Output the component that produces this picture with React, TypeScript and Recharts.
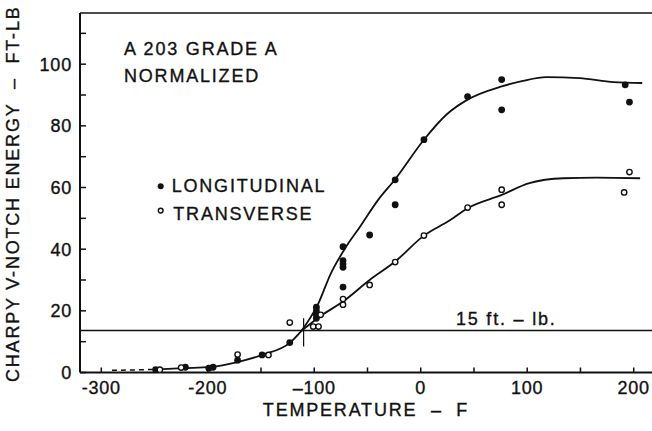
import {
  ComposedChart,
  Legend,
  Line,
  ReferenceDot,
  ReferenceLine,
  Scatter,
  XAxis,
  YAxis,
} from 'recharts'

const FONT = '"Liberation Sans", Arial, Helvetica, sans-serif'
const INK = '#111'

// test points (temperature F, energy ft-lb)
const LONG_TEMP = [-249, -221, -199, -195, -172, -149, -123, -98, -98, -98, -98, -73, -73, -73, -73, -73, -48, -24, -24, 3, 44, 76, 76, 192, 196]
const LONG_ENERGY = [0.9, 1.7, 1.4, 1.7, 4.0, 5.7, 9.7, 21.2, 20.0, 18.7, 17.6, 40.8, 36.3, 35.2, 34.1, 27.7, 44.6, 62.5, 54.4, 75.5, 89.5, 95.0, 85.2, 93.3, 87.7]
const TRANS_TEMP = [-245, -225, -172, -143, -123, -101, -96, -94, -73, -73, -48, -24, 3, 44, 76, 76, 191, 196]
const TRANS_ENERGY = [0.9, 1.6, 5.8, 5.7, 16.2, 14.9, 14.9, 18.7, 23.8, 22.0, 28.4, 35.8, 44.4, 53.5, 59.3, 54.4, 58.4, 65.0]

// hand-drawn fit curves
const TAIL_TEMP = [-290, -247]
const TAIL_ENERGY = [0.7, 1.0]
const LOW_TEMP = [-247, -223, -197, -172, -148, -123, -112]
const LOW_ENERGY = [1.0, 1.4, 1.8, 3.4, 5.8, 9.6, 13.5]
const LONG_FIT_TEMP = [-112, -96, -85, -71, -57, -40, -24, 3, 24, 44, 76, 96, 118, 149, 181, 208]
const LONG_FIT_ENERGY = [13.5, 22.5, 31.7, 40.3, 47.3, 56, 62.7, 75.5, 83.6, 88.5, 92.8, 94.6, 95.8, 95.5, 94.2, 93.9]
const TRANS_FIT_TEMP = [-112, -95, -73, -48, -24, 3, 27, 44, 76, 102, 134, 165, 206]
const TRANS_FIT_ENERGY = [13.5, 18.1, 23, 30, 36, 44.4, 49.3, 53.3, 57.6, 61.4, 63, 63.2, 63]

const X_TICKS = [-300, -250, -200, -150, -100, -50, 0, 50, 100, 150, 200]
const X_LABELS: Record<number, string> = { [-300]: '-300', [-200]: '-200', [-100]: '–100', 0: '0', 100: '100', 200: '200' }
const Y_TICKS = [0, 10, 20, 30, 40, 50, 60, 70, 80, 90, 100, 110]

const CRITERION = 13.6
const TRANSITION_TEMP = -110

const zip = (t: number[], e: number[]) => t.map((x, i) => ({ t: x, e: e[i] }))

// scanned print looks a little heavier than plain regular weight
const textStyle = { fontFamily: FONT, fontSize: 18, letterSpacing: 1.8, fill: INK, stroke: INK, strokeWidth: 0.35 }
const htmlText = { fontSize: 18, letterSpacing: 1.8, color: INK, WebkitTextStroke: `0.35px ${INK}` }

function BottomTick({ x, y, payload }: any) {
  const label = X_LABELS[payload.value]
  return (
    <g>
      <line x1={x} x2={x} y1={y} y2={y - 5} stroke={INK} strokeWidth={1.5} />
      {label !== undefined && (
        <text x={x} y={y + 21} textAnchor="middle" {...textStyle} letterSpacing={0.8}>
          {label}
        </text>
      )}
    </g>
  )
}

function LeftTick({ x, y, payload }: any) {
  return (
    <g>
      <line x1={x} x2={x + 6} y1={y} y2={y} stroke={INK} strokeWidth={1.5} />
      {payload.value % 20 === 0 && (
        <text x={x - 8} y={y} dy="0.36em" textAnchor="end" {...textStyle} letterSpacing={0.8}>
          {payload.value}
        </text>
      )}
    </g>
  )
}

const TopTick = ({ x, y }: any) => <line x1={x} x2={x} y1={y} y2={y + 5} stroke={INK} strokeWidth={1.5} />
const RightTick = ({ x, y }: any) => <line x1={x} x2={x - 5} y1={y} y2={y} stroke={INK} strokeWidth={1.5} />

const FilledDot = ({ cx, cy }: any) => <circle cx={cx} cy={cy} r={3.4} fill={INK} />
const OpenDot = ({ cx, cy }: any) => <circle cx={cx} cy={cy} r={2.7} fill="#fff" stroke={INK} strokeWidth={1.4} />

function LegendBox({ payload }: any) {
  const items = (payload || []).filter((p: any) => p.type !== 'none')
  return (
    <div style={{ position: 'relative', width: 200, height: 60, fontFamily: FONT }}>
      {items.map((p: any, i: number) => {
        const open = p.value === 'TRANSVERSE'
        return (
          <div key={p.value} style={{ position: 'absolute', left: 0, top: i * 27.3, height: 27, lineHeight: '27px', whiteSpace: 'nowrap' }}>
            <svg width={12} height={27} style={{ position: 'absolute', left: 0, top: 0 }}>
              {open ? (
                <circle cx={5.7} cy={9.6} r={2.4} fill="#fff" stroke={INK} strokeWidth={1.4} />
              ) : (
                <circle cx={5.7} cy={13.3} r={3} fill={INK} />
              )}
            </svg>
            <span style={{ position: 'absolute', left: open ? 18.3 : 16.7, ...htmlText }}>{p.value}</span>
          </div>
        )
      })}
    </div>
  )
}

export default function App() {
  return (
    <div style={{ position: 'absolute', left: 0, top: 0, width: 652, height: 431, overflow: 'hidden', background: '#fff', fontFamily: FONT }}>
      <ComposedChart width={660} height={431} margin={{ top: 0, right: 0, bottom: 0, left: 0 }}>
        <XAxis
          dataKey="t"
          type="number"
          domain={[-320, 220]}
          ticks={X_TICKS}
          interval={0}
          allowDataOverflow
          height={58.5}
          tickSize={0}
          tickMargin={0}
          tickLine={false}
          tick={<BottomTick />}
          axisLine={{ stroke: INK, strokeWidth: 2 }}
          label={{
            content: ({ viewBox }: any) => (
              <text x={viewBox.x + viewBox.width / 2 - 1.5} y={viewBox.y + 43} textAnchor="middle" {...textStyle}>
                {'TEMPERATURE\u00A0\u00A0–\u00A0\u00A0F'}
              </text>
            ),
          }}
        />
        <XAxis
          xAxisId="top"
          orientation="top"
          type="number"
          domain={[-320, 220]}
          ticks={X_TICKS}
          interval={0}
          height={13}
          tickSize={0}
          tickMargin={0}
          tickLine={false}
          tick={<TopTick />}
          axisLine={{ stroke: INK, strokeWidth: 1.5 }}
        />
        <YAxis
          type="number"
          domain={[0, 116.6]}
          ticks={Y_TICKS}
          interval={0}
          allowDataOverflow
          width={80}
          tickSize={0}
          tickMargin={0}
          tickLine={false}
          tick={<LeftTick />}
          axisLine={{ stroke: INK, strokeWidth: 2 }}
          label={{
            content: ({ viewBox }: any) => (
              <text
                transform={`translate(19, ${viewBox.y + viewBox.height / 2 + 1}) rotate(-90)`}
                textAnchor="middle"
                {...textStyle}
              >
                {'CHARPY V-NOTCH ENERGY\u00A0\u00A0–\u00A0\u00A0FT-LB'}
              </text>
            ),
          }}
        />
        <YAxis
          yAxisId="right"
          orientation="right"
          type="number"
          domain={[0, 116.6]}
          ticks={Y_TICKS}
          interval={0}
          width={5}
          tickSize={0}
          tickMargin={0}
          tickLine={false}
          tick={<RightTick />}
          axisLine={{ stroke: INK, strokeWidth: 2 }}
        />

        <ReferenceLine y={CRITERION} stroke={INK} strokeWidth={1.5} />
        <ReferenceLine
          segment={[
            { x: TRANSITION_TEMP, y: 8.4 },
            { x: TRANSITION_TEMP, y: 17.6 },
          ]}
          stroke={INK}
          strokeWidth={1.2}
        />
        <ReferenceDot
          x={80.3}
          y={17.5}
          r={0}
          fill="none"
          stroke="none"
          label={{ value: '15 ft. – lb.', position: 'center', ...textStyle }}
        />

        <Line data={zip(TAIL_TEMP, TAIL_ENERGY)} dataKey="e" type="monotone" stroke={INK} strokeWidth={1.5} strokeDasharray="5 4" dot={false} legendType="none" isAnimationActive={false} />
        <Line data={zip(LOW_TEMP, LOW_ENERGY)} dataKey="e" type="monotone" stroke={INK} strokeWidth={1.8} dot={false} legendType="none" isAnimationActive={false} />
        <Line data={zip(LONG_FIT_TEMP, LONG_FIT_ENERGY)} dataKey="e" type="monotone" stroke={INK} strokeWidth={1.8} dot={false} legendType="none" isAnimationActive={false} />
        <Line data={zip(TRANS_FIT_TEMP, TRANS_FIT_ENERGY)} dataKey="e" type="monotone" stroke={INK} strokeWidth={1.8} dot={false} legendType="none" isAnimationActive={false} />

        <Scatter name="LONGITUDINAL" data={zip(LONG_TEMP, LONG_ENERGY)} dataKey="e" shape={<FilledDot />} isAnimationActive={false} />
        <Scatter name="TRANSVERSE" data={zip(TRANS_TEMP, TRANS_ENERGY)} dataKey="e" shape={<OpenDot />} isAnimationActive={false} />

        <Legend
          layout="vertical"
          align="center"
          verticalAlign="middle"
          content={<LegendBox />}
          wrapperStyle={{ left: 155, top: 173.4, width: 200 }}
        />
      </ComposedChart>

      <div style={{ position: 'absolute', left: 124, top: 35.7, lineHeight: '27px', whiteSpace: 'nowrap', ...htmlText }}>
        <div>A 203 GRADE A</div>
        <div>NORMALIZED</div>
      </div>
    </div>
  )
}
